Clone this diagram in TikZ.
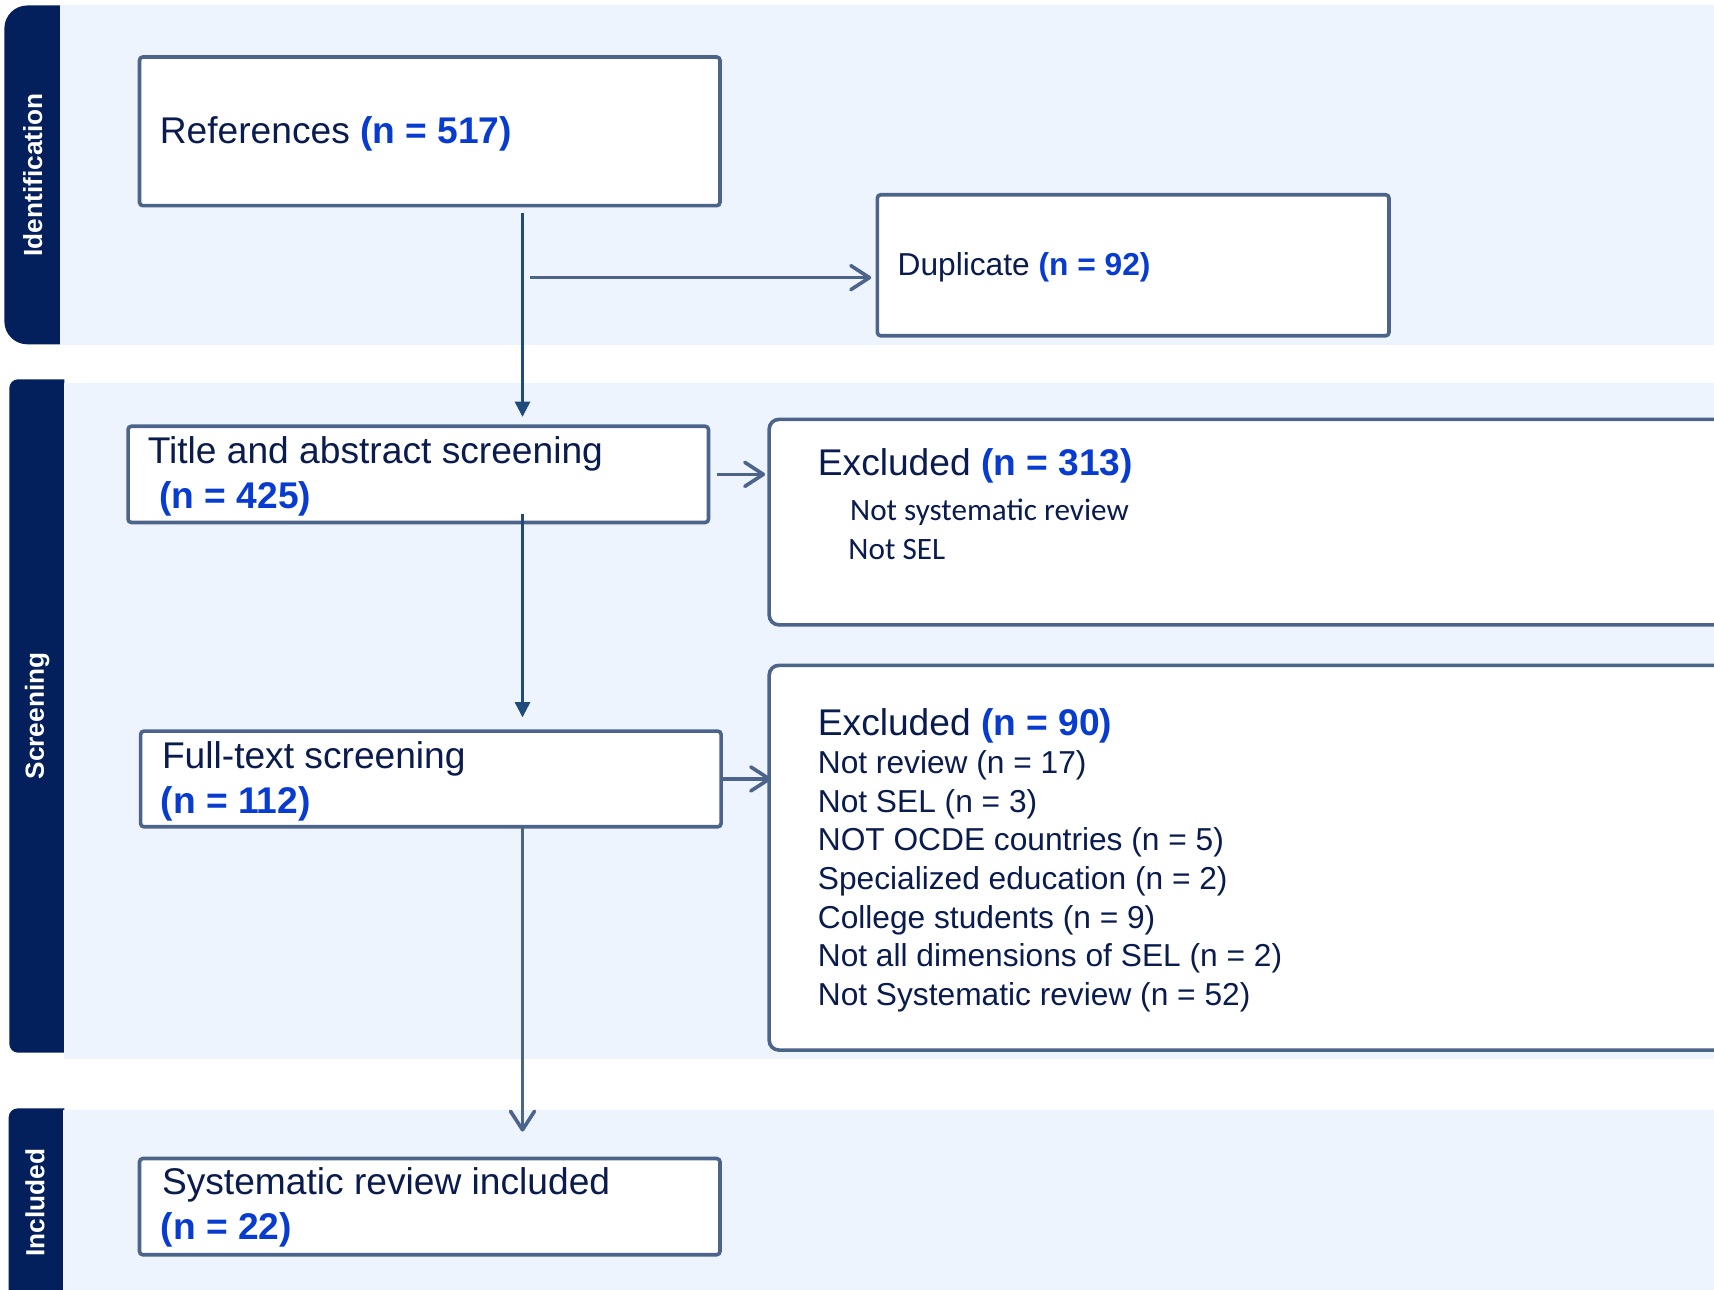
\documentclass[tikz,border=0pt]{standalone}
\usepackage{fontspec}
\setmainfont{Liberation Sans}
\newfontfamily\notefont{Carlito}
\usepackage{tikz}
\usetikzlibrary{positioning, arrows.meta, calc}
\definecolor{mynavy}{RGB}{3,31,92}
\definecolor{myband}{RGB}{238,244,254}
\definecolor{myframe}{RGB}{76,100,138}
\definecolor{myarrow}{RGB}{31,74,122}
\definecolor{mytext}{RGB}{10,27,78}
\definecolor{myblue}{RGB}{8,60,208}
\newcommand{\nval}[1]{\textcolor{myblue}{\textbf{#1}}}
\tikzset{
	boxnode/.style={
			draw=myframe,
			line width=3.3pt,
			fill=white,
			rounded corners=3pt,
			anchor=north west,
			inner sep=0pt
		},
	exclnode/.style={
			boxnode,
			rounded corners=9pt
		},
	textnode/.style={
			anchor=base west,
			inner sep=0pt,
			text=mytext,
			font=\fontsize{34}{41}\selectfont
		},
	smalltext/.style={
			textnode,
			font=\fontsize{29}{35}\selectfont
		},
	notetext/.style={
			textnode,
			font=\notefont\fontsize{28.5}{36}\selectfont
		},
	tablabel/.style={
			rotate=90,
			inner sep=0pt,
			text=white,
			font=\bfseries\fontsize{24}{28}\selectfont
		},
	thinarrow/.style={
			draw=myarrow,
			line width=2.2pt,
			-{Triangle[length=14pt, width=14pt]}
		},
	thickarrow/.style={
			draw=myframe,
			line width=3.3pt,
			-{Straight Barb[length=17pt, width=22pt, round]}
		}
}

\begin{document}
\begin{tikzpicture}[x=1pt, y=-1pt]
\useasboundingbox (0,0) rectangle (1568,1180);
\clip (0,0) rectangle (1568,1180);

\begin{scope}
\clip (0,0) rectangle (59,1180);
\fill[mynavy, rounded corners=21pt] (4,5) rectangle (80,315);
\fill[mynavy, rounded corners=8pt] (8.5,347) rectangle (80,963);
\fill[mynavy, rounded corners=8pt] (8,1014) rectangle (80,1200);
\end{scope}
\fill[myband] (55,5) rectangle (1568,316);
\fill[myband] (59,350) rectangle (1568,969);
\fill[myband] (58,1015) rectangle (1568,1180);

\node[tablabel] (lid) at (30,160) {Identification};
\node[tablabel] (lscr) at (34,655) {Screening};
\node[tablabel] (linc) at (32,1100) {Included};

\node[boxnode, minimum width=531pt, minimum height=136pt] (refs) at (126,50.5) {};
\node[boxnode, minimum width=468pt, minimum height=129pt] (dup) at (801,176.5) {};
\node[exclnode, minimum width=900pt, minimum height=188pt] (excl1) at (702,382) {};
\node[boxnode, minimum width=531pt, minimum height=88pt] (title) at (115.5,388.3) {};
\node[boxnode, minimum width=531pt, minimum height=87.5pt] (full) at (127,667.2) {};
\node[exclnode, minimum width=900pt, minimum height=352pt] (excl2) at (702,607) {};
\node[boxnode, minimum width=531pt, minimum height=88pt] (incl) at (126,1058.2) {};

\node[textnode] (trefs) at (146,131) {References \nval{(n = 517)}};
\node[smalltext] (tdup) at (821,252) {Duplicate \nval{(n = 92)}};
\node[textnode] (texcl1) at (748,435) {Excluded \nval{(n = 313)}};
\node[notetext] (tnote1) at (777.5,476) {Not systematic review};
\node[notetext] (tnote2) at (776,512) {Not SEL};
\node[textnode] (ttitle) at (135,424) {Title and abstract screening};
\node[textnode] (ntitle) at (145.5,465) {\nval{(n = 425)}};
\node[textnode] (tfull) at (148,703) {Full-text screening};
\node[textnode] (nfull) at (147,744) {\nval{(n = 112)}};
\node[textnode] (texcl2) at (748,672.5) {Excluded \nval{(n = 90)}};
\foreach \reason [count=\i] in {Not review (n = 17), Not SEL (n = 3),
  NOT OCDE countries (n = 5), Specialized education (n = 2),
  College students (n = 9), Not all dimensions of SEL (n = 2),
  Not Systematic review (n = 52)}
  \node[smalltext] (r\i) at (748,{672.7+35.25*\i}) {\reason};
\node[textnode] (tincl) at (148,1093) {Systematic review included};
\node[textnode] (nincl) at (147,1134) {\nval{(n = 22)}};

\coordinate (d1) at (478,194.5);
\coordinate (d2) at (478,470.5);
\coordinate (d3) at (478,754.7);
\coordinate (split) at (485,254);

\draw[thinarrow, shorten >=7pt] (d1) -- (d1 |- title.north);
\draw[thickarrow, shorten >=4pt] (split) -- (split -| dup.west);
\draw[thickarrow, shorten <=6.5pt, shorten >=2pt] (title.east) -- (title.east -| excl1.west);
\draw[thinarrow, shorten >=11pt] (d2) -- (d2 |- full.north);
\draw[thickarrow, shorten >=-3.5pt] (full.east) -- (full.east -| excl2.west);
\draw[thickarrow, shorten >=23pt] (d3) -- (d3 |- incl.north);
\end{tikzpicture}
\end{document}
